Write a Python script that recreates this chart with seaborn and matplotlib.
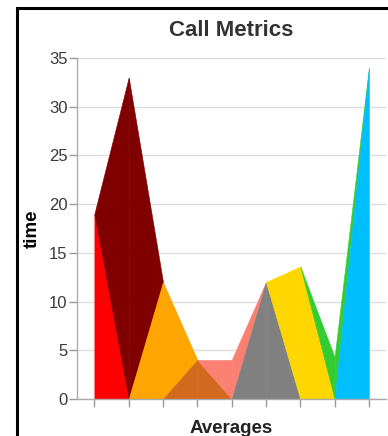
"""
Call Metrics: split-area chart of nine average call times.
"""

import numpy as np
import pandas as pd
import seaborn as sns
import matplotlib.pyplot as plt
from matplotlib.patches import Rectangle

# values, one per x position
positions = list(range(9))
times = [19, 33, 12, 4, 4, 12, 13.6, 4.3, 34]
series_colors = ["#FF0000", "#800000", "#FFA500", "#D2691E", "#FA8072",
                 "#808080", "#FFD700", "#32CD32", "#00BFFF"]
# how each gap between two points is split between its two series
# True: diagonal runs from the left point down to the right baseline
split_down = [True, False, False, True, False, True, True, False]

y_ticks = [0, 5, 10, 15, 20, 25, 30, 35]

sns.set_theme(style="whitegrid")
plt.rcParams["font.family"] = ["Liberation Sans", "DejaVu Sans"]

df = pd.DataFrame({"pos": positions, "time": times, "color": series_colors})

fig = plt.figure(figsize=(3.88, 4.36), dpi=100)
ax = fig.add_axes([0.199, 0.085, 0.796, 0.782])

for j in range(len(df) - 1):
    x = [df.pos[j], df.pos[j + 1]]
    v0, v1 = df.time[j], df.time[j + 1]
    left_c, right_c = df.color[j], df.color[j + 1]
    if split_down[j]:
        ax.fill_between(x, [0, 0], [v0, 0], color=left_c, lw=0.4, ec=left_c)
        ax.fill_between(x, [v0, 0], [v0, v1], color=right_c, lw=0.4, ec=right_c)
    else:
        ax.fill_between(x, [0, v1], [v0, v1], color=left_c, lw=0.4, ec=left_c)
        ax.fill_between(x, [0, 0], [0, v1], color=right_c, lw=0.4, ec=right_c)

ax.set_xlim(-0.5, 8.5)
ax.set_ylim(0, 35)
ax.set_xticks(positions)
ax.set_xticklabels([])
ax.set_yticks(y_ticks)
ax.grid(axis="x", visible=False)
ax.grid(axis="y", color="#DDDDDD", lw=1)
ax.set_axisbelow(True)
sns.despine(ax=ax, top=True, right=True)
for side in ["left", "bottom"]:
    ax.spines[side].set_color("#AAAAAA")
    ax.spines[side].set_linewidth(1)
ax.tick_params(axis="both", which="major", length=6, width=1, color="#999999",
               labelsize=12, labelcolor="#3A3A3A", pad=1,
               bottom=True, left=True)

ax.set_title("Call Metrics", fontsize=16, fontweight="bold", color="#333333", pad=16)
ax.set_ylabel("time", fontsize=13.5, fontweight="bold", color="black", labelpad=6)
ax.set_xlabel("Averages", fontsize=13.5, fontweight="bold", color="#222222", labelpad=8)

# outer black frame of the chart panel
fig.patches.append(Rectangle((17 / 388, -0.1), 1.2, 1.1 - 8 / 436,
                             transform=fig.transFigure, fill=False,
                             ec="black", lw=2.2, zorder=10))

fig.savefig("out.png", dpi=100)
